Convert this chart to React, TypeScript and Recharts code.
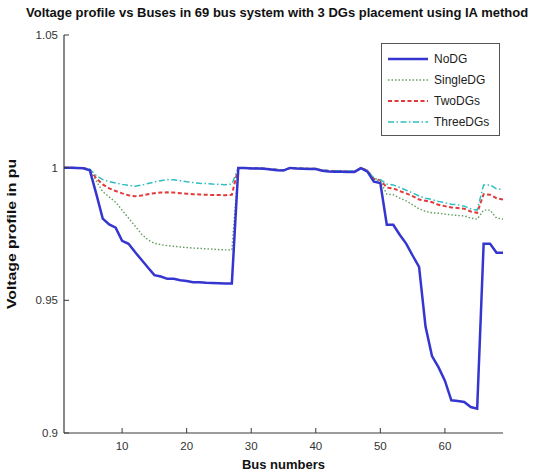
import React from 'react';
import { LineChart, Line, XAxis, YAxis, Legend } from 'recharts';

const buses = [
  1, 2, 3, 4, 5, 6, 7, 8, 9, 10, 11, 12, 13, 14, 15, 16, 17, 18, 19, 20, 21, 22, 23,
  24, 25, 26, 27, 28, 29, 30, 31, 32, 33, 34, 35, 36, 37, 38, 39, 40, 41, 42, 43, 44, 45, 46,
  47, 48, 49, 50, 51, 52, 53, 54, 55, 56, 57, 58, 59, 60, 61, 62, 63, 64, 65, 66, 67, 68, 69,
];

const noDG = [
  1.0, 1.0, 0.9999, 0.9998, 0.999, 0.9901, 0.9808, 0.9786, 0.9774, 0.9724, 0.9713, 0.9682,
  0.9653, 0.9624, 0.9595, 0.959, 0.9581, 0.9581, 0.9576, 0.9573, 0.9568, 0.9568, 0.9566,
  0.9565, 0.9564, 0.9563, 0.9563, 0.9999, 0.9999, 0.9997, 0.9997, 0.9996, 0.9993, 0.999,
  0.9989, 0.9999, 0.9997, 0.9996, 0.9995, 0.9995, 0.9988, 0.9986, 0.9985, 0.9985, 0.9984,
  0.9984, 0.9998, 0.9985, 0.9947, 0.9942, 0.9785, 0.9785, 0.9747, 0.9714, 0.9669, 0.9626,
  0.9401, 0.929, 0.9248, 0.9197, 0.9123, 0.9121, 0.9117, 0.9098, 0.9092, 0.9713, 0.9713,
  0.9679, 0.9679,
];

const singleDG = [
  1.0, 1.0, 0.9999, 0.9998, 0.9992, 0.995, 0.991, 0.989, 0.987, 0.984, 0.981, 0.978,
  0.975, 0.9728, 0.9715, 0.971, 0.9706, 0.9704, 0.9701, 0.9699, 0.9697, 0.9696, 0.9694,
  0.9693, 0.9691, 0.969, 0.969, 0.9999, 0.9999, 0.9998, 0.9998, 0.9997, 0.9994, 0.9991,
  0.999, 0.9999, 0.9998, 0.9997, 0.9996, 0.9996, 0.9989, 0.9987, 0.9986, 0.9986, 0.9985,
  0.9985, 0.9999, 0.9988, 0.9955, 0.995, 0.99, 0.9898, 0.9885, 0.9875, 0.986, 0.9845,
  0.9835, 0.983, 0.9828, 0.9825, 0.9822, 0.982, 0.9818, 0.981, 0.9806, 0.984, 0.984,
  0.981, 0.9806,
];

const twoDGs = [
  1.0, 1.0, 0.9999, 0.9998, 0.9993, 0.996, 0.9937, 0.9922, 0.9912, 0.9903, 0.9896, 0.9892,
  0.9895, 0.99, 0.9904, 0.9906, 0.9907, 0.9906, 0.9904, 0.9902, 0.99, 0.9899, 0.9898,
  0.9897, 0.9897, 0.9896, 0.9898, 0.9999, 0.9999, 0.9998, 0.9998, 0.9997, 0.9995, 0.9992,
  0.9991, 0.9999, 0.9998, 0.9997, 0.9996, 0.9996, 0.999, 0.9988, 0.9987, 0.9987, 0.9986,
  0.9986, 0.9999, 0.9989, 0.9958, 0.9953, 0.9925, 0.9922, 0.9912, 0.9903, 0.9893, 0.988,
  0.9875, 0.987, 0.986, 0.9855, 0.985, 0.9848, 0.9845, 0.9835, 0.983, 0.99, 0.9898,
  0.9885, 0.988,
];

const threeDGs = [
  1.0, 1.0, 0.9999, 0.9998, 0.9994, 0.997, 0.9955, 0.9947, 0.9942, 0.9937, 0.9933, 0.993,
  0.9934, 0.994, 0.9946, 0.9951, 0.9955, 0.9954, 0.9951, 0.9947, 0.9944, 0.9941, 0.994,
  0.9938, 0.9937, 0.9936, 0.9938, 0.9999, 0.9999, 0.9998, 0.9998, 0.9997, 0.9995, 0.9993,
  0.9992, 0.9999, 0.9998, 0.9997, 0.9997, 0.9997, 0.9991, 0.9989, 0.9988, 0.9988, 0.9987,
  0.9987, 0.9999, 0.999, 0.996, 0.9955, 0.9938, 0.9935, 0.9925, 0.9915, 0.9905, 0.9893,
  0.9885, 0.988, 0.9873, 0.9868, 0.9862, 0.986, 0.9855, 0.9845, 0.984, 0.9935, 0.9935,
  0.992, 0.9918,
];

const seriesNames = ['NoDG', 'SingleDG', 'TwoDGs', 'ThreeDGs'];
const xTicks = [10, 20, 30, 40, 50, 60];
const yTicks = [0.9, 0.95, 1, 1.05];
const yTickLabels = ['0.9', '0.95', '1', '1.05'];
const titleText = 'Voltage profile vs Buses in 69 bus system with 3 DGs placement using IA method';
const xLabelText = 'Bus numbers';
const yLabelText = 'Voltage profile in pu';

const data = buses.map((b, i) => ({
  bus: b,
  NoDG: noDG[i],
  SingleDG: singleDG[i],
  TwoDGs: twoDGs[i],
  ThreeDGs: threeDGs[i],
}));

const FONT = '"Liberation Sans", Arial, Helvetica, sans-serif';
const AXIS = '#3a3a3a';

const styles: Record<string, { stroke: string; width: number; dash?: string }> = {
  NoDG: { stroke: '#3535d0', width: 2.5 },
  SingleDG: { stroke: '#5f9e5f', width: 1.4, dash: '1.5 2' },
  TwoDGs: { stroke: '#e23a3a', width: 2, dash: '4 2.5' },
  ThreeDGs: { stroke: '#2fbfbf', width: 1.5, dash: '6 2.5 1.5 2.5' },
};

const BottomTick = (props: any) => {
  const { x, y, payload } = props;
  return (
    <g>
      <line x1={x} y1={y} x2={x} y2={y - 5} stroke={AXIS} strokeWidth={1} />
      <text x={x} y={y + 17} textAnchor="middle" fontSize={11.5} fill="#333" fontFamily={FONT}>
        {payload.value}
      </text>
    </g>
  );
};

const TopTick = (props: any) => {
  const { x, y } = props;
  return <line x1={x} y1={y} x2={x} y2={y + 5} stroke={AXIS} strokeWidth={1} />;
};

const LeftTick = (props: any) => {
  const { x, y, payload } = props;
  const idx = yTicks.indexOf(payload.value);
  return (
    <g>
      <line x1={x} y1={y} x2={x + 5} y2={y} stroke={AXIS} strokeWidth={1} />
      <text x={x - 6} y={y + 4} textAnchor="end" fontSize={11.5} fill="#333" fontFamily={FONT}>
        {idx >= 0 ? yTickLabels[idx] : payload.value}
      </text>
    </g>
  );
};

const RightTick = (props: any) => {
  const { x, y } = props;
  return <line x1={x} y1={y} x2={x - 5} y2={y} stroke={AXIS} strokeWidth={1} />;
};

const LegendBox = () => (
  <div
    style={{
      border: '1px solid #555',
      background: '#fff',
      padding: '4px 0 4px 5px',
      fontFamily: FONT,
      fontSize: 12,
      color: '#222',
      boxSizing: 'border-box',
      width: 119,
      height: 93,
    }}
  >
    {seriesNames.map((n) => (
      <div key={n} style={{ display: 'flex', alignItems: 'center', height: 21 }}>
        <svg width={42} height={10} style={{ marginRight: 5 }}>
          <line
            x1={1}
            y1={5}
            x2={41}
            y2={5}
            stroke={styles[n].stroke}
            strokeWidth={styles[n].width}
            strokeDasharray={styles[n].dash}
          />
        </svg>
        <span>{n}</span>
      </div>
    ))}
  </div>
);

export default function App() {
  return (
    <div style={{ position: 'absolute', left: 0, top: 0, width: 539, height: 473, background: '#fff' }}>
      <div
        style={{
          position: 'absolute',
          left: 0,
          top: 5,
          width: 539,
          paddingLeft: 26,
          boxSizing: 'border-box',
          textAlign: 'left',
          fontFamily: FONT,
          fontWeight: 'bold',
          fontSize: 13,
          color: '#111',
          whiteSpace: 'nowrap',
          zIndex: 2,
        }}
      >
        {titleText}
      </div>
      <LineChart
        width={539}
        height={473}
        data={data}
        margin={{ top: 35, right: 36, bottom: 0, left: 0 }}
      >
        <XAxis
          dataKey="bus"
          type="number"
          domain={[1, 69]}
          ticks={xTicks}
          allowDataOverflow
          height={40}
          tickSize={0}
          tickMargin={0}
          tickLine={false}
          tick={<BottomTick />}
          axisLine={{ stroke: AXIS, strokeWidth: 1.2 }}
          label={{
            content: (p: any) => {
              const vb = p.viewBox;
              return (
                <text
                  x={vb.x + vb.width / 2}
                  y={vb.y + 36}
                  textAnchor="middle"
                  fontFamily={FONT}
                  fontWeight="bold"
                  fontSize={13}
                  fill="#111"
                >
                  {xLabelText}
                </text>
              );
            },
          }}
        />
        <XAxis
          xAxisId="top"
          orientation="top"
          dataKey="bus"
          type="number"
          domain={[1, 69]}
          ticks={xTicks}
          height={0}
          tickSize={0}
          tickMargin={0}
          tickLine={false}
          tick={<TopTick />}
          axisLine={{ stroke: AXIS, strokeWidth: 1.2 }}
        />
        <YAxis
          type="number"
          domain={[0.9, 1.05]}
          ticks={yTicks}
          allowDataOverflow
          width={64}
          tickSize={0}
          tickMargin={0}
          tickLine={false}
          tick={<LeftTick />}
          axisLine={{ stroke: AXIS, strokeWidth: 1.2 }}
          label={{
            content: (p: any) => {
              const vb = p.viewBox;
              const cx = vb.x + 16;
              const cy = vb.y + vb.height / 2;
              return (
                <text
                  x={cx}
                  y={cy}
                  transform={`rotate(-90 ${cx} ${cy})`}
                  textAnchor="middle"
                  fontFamily={FONT}
                  fontWeight="bold"
                  fontSize={13}
                  textLength={150}
                  lengthAdjust="spacingAndGlyphs"
                  fill="#111"
                >
                  {yLabelText}
                </text>
              );
            },
          }}
        />
        <YAxis
          yAxisId="right"
          orientation="right"
          type="number"
          domain={[0.9, 1.05]}
          ticks={yTicks}
          width={0}
          tickSize={0}
          tickMargin={0}
          tickLine={false}
          tick={<RightTick />}
          axisLine={{ stroke: AXIS, strokeWidth: 1.2 }}
        />
        <Legend
          layout="vertical"
          align="center"
          verticalAlign="middle"
          content={<LegendBox />}
          wrapperStyle={{ position: 'absolute', left: 381, top: 43, width: 119, height: 93 }}
        />
        {['SingleDG', 'TwoDGs', 'ThreeDGs', 'NoDG'].map((n) => (
          <Line
            key={n}
            type="linear"
            dataKey={n}
            name={n}
            stroke={styles[n].stroke}
            strokeWidth={styles[n].width}
            strokeDasharray={styles[n].dash}
            dot={false}
            activeDot={false}
            isAnimationActive={false}
          />
        ))}
      </LineChart>
    </div>
  );
}
